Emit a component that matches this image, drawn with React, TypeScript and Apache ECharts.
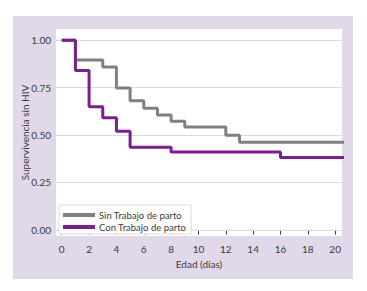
import React, { useEffect, useRef } from "react";
import * as echarts from "echarts";

const sinTimes = [0, 1, 3, 4, 5, 6, 7, 8, 9, 12, 13, 20.7];
const sinValues = [1, 0.896, 0.859, 0.749, 0.681, 0.642, 0.606, 0.573, 0.543, 0.499, 0.462, 0.462];
const conTimes = [0, 1, 2, 3, 4, 5, 8, 16, 20.7];
const conValues = [1, 0.841, 0.65, 0.592, 0.52, 0.435, 0.41, 0.382, 0.382];
const xTicks = [0, 2, 4, 6, 8, 10, 12, 14, 16, 18, 20];
const yTicks = [0, 0.25, 0.5, 0.75, 1];
const seriesNames = ["Sin Trabajo de parto", "Con Trabajo de parto"];

const FONT = "Lato, 'Noto Sans', sans-serif";
const TXT = "#3a3a3a";

export default function App() {
  const ref = useRef<HTMLDivElement>(null);
  useEffect(() => {
    if (!ref.current) return;
    const chart = echarts.init(ref.current, undefined, { renderer: "svg" });
    const zip = (t: number[], v: number[]) => t.map((x, i) => [x, v[i]]);
    chart.setOption({
      animation: false,
      textStyle: { fontFamily: FONT },
      graphic: [
        {
          type: "rect",
          z: -100,
          silent: true,
          shape: { x: 13, y: 16, width: 340, height: 263 },
          style: { fill: "#e1d9ea" },
        },
      ],
      grid: {
        left: 56,
        right: 25,
        top: 29,
        bottom: 55,
        show: true,
        backgroundColor: "#ffffff",
        borderWidth: 0,
        containLabel: false,
      },
      legend: {
        data: seriesNames,
        orient: "vertical",
        left: 59,
        top: 205,
        z: 10,
        backgroundColor: "#ffffff",
        borderColor: "#dcdcdc",
        borderWidth: 1,
        padding: [4, 5, 1, 4],
        itemGap: 0,
        itemWidth: 32,
        itemHeight: 4,
        icon: "rect",
        textStyle: { fontFamily: FONT, fontSize: 9.5, color: TXT, lineHeight: 12, padding: [0, 0, 0, -1] },
      },
      xAxis: {
        type: "value",
        min: -0.42,
        max: 20.5,
        name: "Edad (días)",
        nameLocation: "middle",
        nameGap: 23,
        nameMoveOverlap: false,
        nameTextStyle: { fontFamily: FONT, fontSize: 10, color: TXT },
        axisLine: { show: false },
        axisTick: {
          show: true,
          customValues: xTicks,
          length: 5,
          lineStyle: { color: "#404040", width: 1 },
        },
        axisLabel: {
          customValues: xTicks,
          fontFamily: FONT,
          fontSize: 10,
          color: TXT,
          margin: 8,
        },
        splitLine: { show: false },
      },
      yAxis: {
        type: "value",
        min: -0.033,
        max: 1.06,
        name: "Supervivencia sin HIV",
        nameLocation: "middle",
        nameGap: 26,
        nameMoveOverlap: false,
        nameTextStyle: { fontFamily: FONT, fontSize: 10, color: TXT },
        axisLine: { show: false },
        axisTick: { show: false },
        axisLabel: {
          customValues: yTicks,
          fontFamily: FONT,
          fontSize: 10,
          color: TXT,
          margin: 5,
          formatter: (v: number) => v.toFixed(2),
        },
        splitLine: { show: false },
      },
      series: [
        {
          type: "line",
          name: "grid",
          data: [],
          z: 1,
          silent: true,
          markLine: {
            silent: true,
            z: 1,
            symbol: ["none", "none"],
            label: { show: false },
            lineStyle: { color: "#dadada", width: 1, type: "solid" },
            data: yTicks.map((y) => ({ yAxis: y })),
          },
        },
        {
          type: "line",
          name: seriesNames[0],
          step: "end",
          data: zip(sinTimes, sinValues),
          showSymbol: false,
          clip: false,
          z: 3,
          color: "#808080",
          lineStyle: { color: "#808080", width: 3 },
        },
        {
          type: "line",
          name: seriesNames[1],
          step: "end",
          data: zip(conTimes, conValues),
          showSymbol: false,
          clip: false,
          z: 4,
          color: "#7b1f8c",
          lineStyle: { color: "#7b1f8c", width: 3 },
        },
      ],
    });
    return () => chart.dispose();
  }, []);
  return (
    <div
      ref={ref}
      style={{ position: "fixed", left: 0, top: 0, width: 367, height: 291, background: "#ffffff" }}
    />
  );
}
